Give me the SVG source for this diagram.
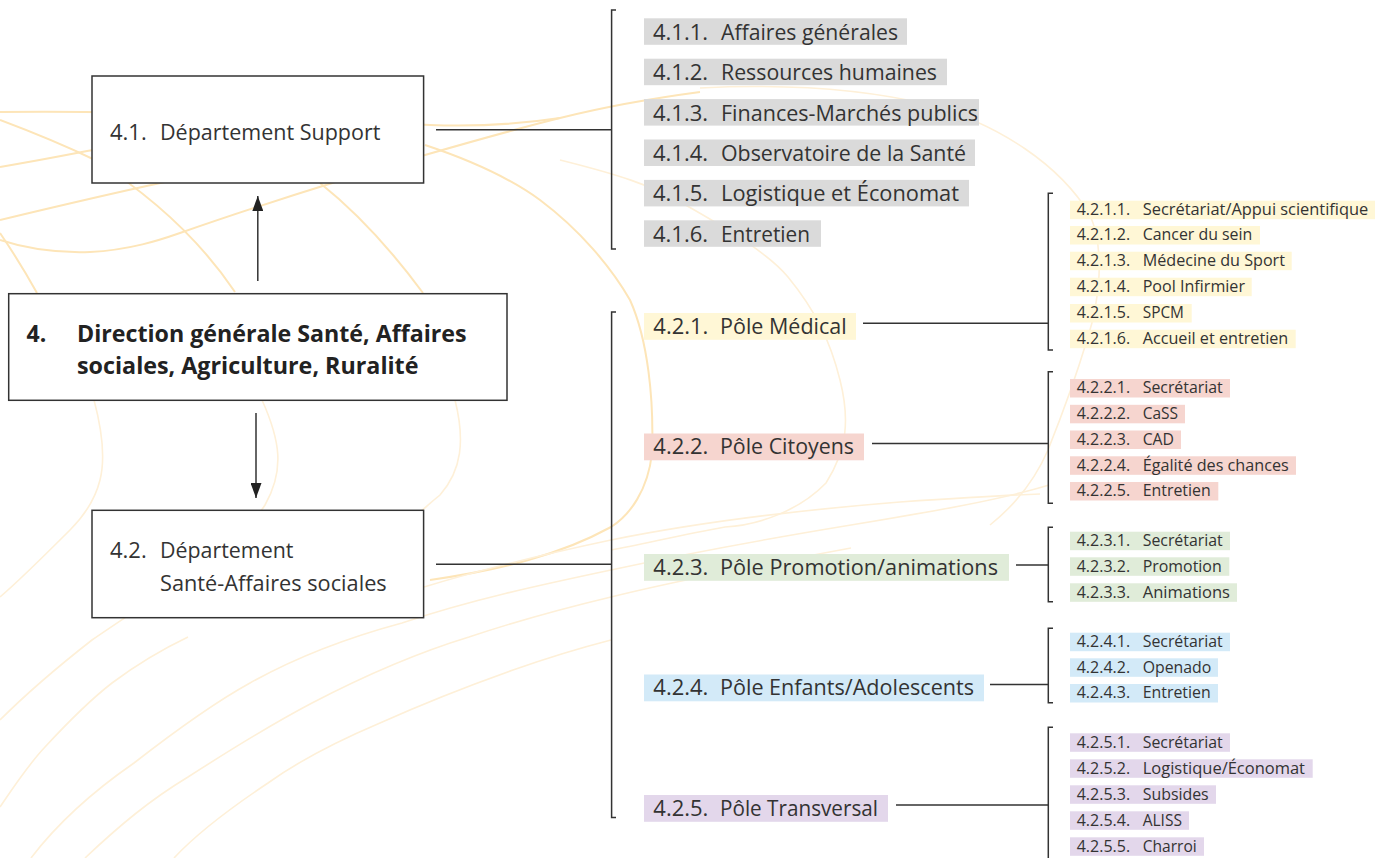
<svg xmlns="http://www.w3.org/2000/svg" width="1386" height="858" viewBox="0 0 1386 858">
<defs>
<style>
.bg{fill:none;stroke:#fde5b8;stroke-width:2}
.bg2{fill:none;stroke:#fef0d8;stroke-width:1.6}
.box{fill:#fff;stroke:#333;stroke-width:1.5}
.ln{fill:none;stroke:#333;stroke-width:1.5}
.t{font-family:"Open Sans","Noto Sans",sans-serif;fill:#333}
.b{font-size:22px}
.bold{font-size:23px;font-weight:700;fill:#222}
.s{font-size:16px}
.gray{fill:#dadada}
.yel{fill:#fff7d6}
.pink{fill:#f6d5cf}
.green{fill:#e0ecd9}
.blue{fill:#d3eaf8}
.purp{fill:#e3d7eb}
</style>
<marker id="arr" markerUnits="userSpaceOnUse" markerWidth="15" markerHeight="11" refX="15" refY="5.5" orient="auto">
<path d="M0,0 L15,5.5 L0,11 z" fill="#222"/>
</marker>
</defs>
<rect width="1386" height="858" fill="#fff"/>
<g id="background">
<path class="bg" d="M0,112 C140,110 300,118 430,125 C480,127 520,124 560,118"/>
<path class="bg" d="M0,120 C40,135 70,148 95,160 C150,195 200,240 235,292"/>
<path class="bg" d="M0,167 C60,157 90,150 120,145"/>
<path class="bg" d="M0,220 C50,208 100,196 165,182"/>
<path class="bg" d="M0,240 C30,250 60,253 90,252 C130,250 160,240 180,233 C260,205 340,180 425,155 C470,142 520,128 560,118 C600,108 640,100 700,92"/>
<path class="bg" d="M425,145 C470,160 510,178 540,200 C580,230 611,267 630,300 C648,340 654,400 652,453 C648,490 630,515 611,527 C560,555 500,570 430,580"/>
<path class="bg" d="M320,183 C360,215 395,255 423,293"/>
<path class="bg" d="M0,233 C15,255 27,275 37,293"/>
<path class="bg2" d="M560,160 C620,175 650,185 682,203 C730,230 770,255 788,277 C815,310 830,340 840,380 C850,420 847,450 826,483 C800,510 760,525 725,527 C680,535 640,545 611,550"/>
<path class="bg2" d="M700,88 C780,84 860,88 930,105 C1000,125 1060,165 1090,215 C1105,250 1100,300 1087,340 C1075,380 1060,420 1048,450 C1035,480 1015,505 990,525"/>
<path class="bg2" d="M94,400 C102,430 105,460 100,480 C95,500 85,515 70,530 C45,555 20,580 0,597"/>
<path class="bg2" d="M262,400 C280,440 285,470 265,505 C240,545 150,600 92,640 C60,665 30,690 0,720"/>
<path class="bg2" d="M455,400 C465,440 462,470 440,495 C430,503 425,508 420,512"/>
<path class="bg2" d="M0,807 C15,785 28,765 45,747 C70,720 90,700 112,683 C140,662 165,648 188,637"/>
<path class="bg2" d="M31,858 C60,820 95,790 134,763 C170,735 210,705 250,683 C300,655 350,637 402,623 C470,600 540,585 611,570 C680,555 760,540 851,525 C930,512 1000,500 1049,485"/>
<path class="bg2" d="M85,858 C120,825 150,800 188,777 C230,750 270,725 312,703 C360,678 410,655 469,637 C520,620 565,608 611,597 C680,580 760,565 851,548"/>
<path class="bg2" d="M174,858 C200,830 235,805 268,783 C300,760 340,740 380,723 C420,705 465,687 513,670 C550,657 580,648 611,640"/>
<path class="bg2" d="M424,587 C480,570 540,555 611,540 C700,522 800,510 900,502 C960,498 1010,495 1040,494"/>
</g>
<g id="connectors">
<line class="ln" x1="257.8" y1="281" x2="257.8" y2="196" marker-end="url(#arr)"/>
<line class="ln" x1="256" y1="413" x2="256" y2="498" marker-end="url(#arr)"/>
<path class="ln" d="M436,129.7 H611.6"/>
<path class="ln" d="M436,564.3 H611.6"/>
<path class="ln" d="M616,10 H611.6 V249 H616"/>
<path class="ln" d="M616,312 H611.6 V817.5 H616"/>
<path class="ln" d="M863,323.2 H1048.3"/>
<path class="ln" d="M872,443.6 H1048.3"/>
<path class="ln" d="M1016,565 H1048.3"/>
<path class="ln" d="M990,684.5 H1048.3"/>
<path class="ln" d="M896,805 H1048.3"/>
<path class="ln" d="M1053,193.3 H1048.3 V350 H1053"/>
<path class="ln" d="M1053,371.7 H1048.3 V503.3 H1053"/>
<path class="ln" d="M1053,527.3 H1048.3 V601.7 H1053"/>
<path class="ln" d="M1053,628.3 H1048.3 V702.7 H1053"/>
<path class="ln" d="M1053,727.3 H1048.3 V862"/>
</g>
<g id="n4">
<rect class="box" x="8.7" y="293.7" width="498.3" height="106.6"/>
<text class="t bold" x="26.5" y="341.7">4.</text>
<text class="t bold" x="77" y="341.7" textLength="389.5" lengthAdjust="spacingAndGlyphs">Direction générale Santé, Affaires</text>
<text class="t bold" x="77" y="374" textLength="341.5" lengthAdjust="spacingAndGlyphs">sociales, Agriculture, Ruralité</text>
</g>
<g id="n41">
<rect class="box" x="92" y="76" width="331.6" height="107"/>
<text class="t b" x="110" y="140">4.1.</text>
<text class="t b" x="160" y="140" textLength="220.4" lengthAdjust="spacingAndGlyphs">Département Support</text>
</g>
<g id="n42">
<rect class="box" x="92" y="510.3" width="331.6" height="107.4"/>
<text class="t b" x="110" y="558.3">4.2.</text>
<text class="t b" x="160" y="558.3" textLength="133.4" lengthAdjust="spacingAndGlyphs">Département</text>
<text class="t b" x="160" y="590.7" textLength="226.7" lengthAdjust="spacingAndGlyphs">Santé-Affaires sociales</text>
</g>
<g id="n411"><rect class="gray" x="644" y="18.3" width="263" height="26.5"/><text class="t b" x="653" y="39.8">4.1.1.</text><text class="t b" x="721" y="39.8" textLength="177" lengthAdjust="spacingAndGlyphs">Affaires générales</text></g>
<g id="n412"><rect class="gray" x="644" y="58.7" width="303" height="26.5"/><text class="t b" x="653" y="80.2">4.1.2.</text><text class="t b" x="721" y="80.2" textLength="216" lengthAdjust="spacingAndGlyphs">Ressources humaines</text></g>
<g id="n413"><rect class="gray" x="644" y="99.1" width="335" height="26.5"/><text class="t b" x="653" y="120.6">4.1.3.</text><text class="t b" x="721" y="120.6" textLength="257" lengthAdjust="spacingAndGlyphs">Finances-Marchés publics</text></g>
<g id="n414"><rect class="gray" x="644" y="139.5" width="331" height="26.5"/><text class="t b" x="653" y="161">4.1.4.</text><text class="t b" x="721" y="161" textLength="245" lengthAdjust="spacingAndGlyphs">Observatoire de la Santé</text></g>
<g id="n415"><rect class="gray" x="644" y="179.9" width="325" height="26.5"/><text class="t b" x="653" y="201.4">4.1.5.</text><text class="t b" x="721" y="201.4" textLength="238" lengthAdjust="spacingAndGlyphs">Logistique et Économat</text></g>
<g id="n416"><rect class="gray" x="644" y="220.3" width="177" height="26.5"/><text class="t b" x="653" y="241.8">4.1.6.</text><text class="t b" x="721" y="241.8" textLength="89" lengthAdjust="spacingAndGlyphs">Entretien</text></g>
<g id="n421"><rect class="yel" x="644" y="313" width="212" height="26.8"/><text class="t b" x="653.3" y="333.7">4.2.1.</text><text class="t b" x="720" y="333.7" textLength="126.7" lengthAdjust="spacingAndGlyphs">Pôle Médical</text></g>
<g id="n422"><rect class="pink" x="644" y="433.5" width="220" height="26.8"/><text class="t b" x="653.3" y="454.2">4.2.2.</text><text class="t b" x="720" y="454.2" textLength="134" lengthAdjust="spacingAndGlyphs">Pôle Citoyens</text></g>
<g id="n423"><rect class="green" x="644" y="554" width="365" height="26.8"/><text class="t b" x="653.3" y="574.7">4.2.3.</text><text class="t b" x="720" y="574.7" textLength="278" lengthAdjust="spacingAndGlyphs">Pôle Promotion/animations</text></g>
<g id="n424"><rect class="blue" x="644" y="674.5" width="340" height="26.8"/><text class="t b" x="653.3" y="695.2">4.2.4.</text><text class="t b" x="720" y="695.2" textLength="254" lengthAdjust="spacingAndGlyphs">Pôle Enfants/Adolescents</text></g>
<g id="n425"><rect class="purp" x="644" y="795" width="244" height="26.8"/><text class="t b" x="653.3" y="815.7">4.2.5.</text><text class="t b" x="720" y="815.7" textLength="158" lengthAdjust="spacingAndGlyphs">Pôle Transversal</text></g>
<g id="n4211"><rect class="yel" x="1070" y="200.7" width="305" height="18.5"/><text class="t s" x="1076.7" y="215">4.2.1.1.</text><text class="t s" x="1142.7" y="215" textLength="225.6" lengthAdjust="spacingAndGlyphs">Secrétariat/Appui scientifique</text></g>
<g id="n4212"><rect class="yel" x="1070" y="226" width="190" height="18.5"/><text class="t s" x="1076.7" y="240.3">4.2.1.2.</text><text class="t s" x="1142.7" y="240.3" textLength="109.6" lengthAdjust="spacingAndGlyphs">Cancer du sein</text></g>
<g id="n4213"><rect class="yel" x="1070" y="251.7" width="221.7" height="18.5"/><text class="t s" x="1076.7" y="266">4.2.1.3.</text><text class="t s" x="1142.7" y="266" textLength="142.3" lengthAdjust="spacingAndGlyphs">Médecine du Sport</text></g>
<g id="n4214"><rect class="yel" x="1070" y="277.7" width="181.7" height="18.5"/><text class="t s" x="1076.7" y="292">4.2.1.4.</text><text class="t s" x="1142.7" y="292" textLength="102.3" lengthAdjust="spacingAndGlyphs">Pool Infirmier</text></g>
<g id="n4215"><rect class="yel" x="1070" y="304" width="121.7" height="18.5"/><text class="t s" x="1076.7" y="318.3">4.2.1.5.</text><text class="t s" x="1142.7" y="318.3" textLength="41.3" lengthAdjust="spacingAndGlyphs">SPCM</text></g>
<g id="n4216"><rect class="yel" x="1070" y="329.7" width="225.7" height="18.5"/><text class="t s" x="1076.7" y="344">4.2.1.6.</text><text class="t s" x="1142.7" y="344" textLength="145.6" lengthAdjust="spacingAndGlyphs">Accueil et entretien</text></g>
<g id="n4221"><rect class="pink" x="1070" y="379" width="160" height="18.5"/><text class="t s" x="1076.7" y="393.3">4.2.2.1.</text><text class="t s" x="1142.7" y="393.3" textLength="80" lengthAdjust="spacingAndGlyphs">Secrétariat</text></g>
<g id="n4222"><rect class="pink" x="1070" y="404.8" width="115" height="18.5"/><text class="t s" x="1076.7" y="419.1">4.2.2.2.</text><text class="t s" x="1142.7" y="419.1" textLength="35.3" lengthAdjust="spacingAndGlyphs">CaSS</text></g>
<g id="n4223"><rect class="pink" x="1070" y="430.5" width="111" height="18.5"/><text class="t s" x="1076.7" y="444.8">4.2.2.3.</text><text class="t s" x="1142.7" y="444.8" textLength="31.3" lengthAdjust="spacingAndGlyphs">CAD</text></g>
<g id="n4224"><rect class="pink" x="1070" y="456.3" width="226" height="18.5"/><text class="t s" x="1076.7" y="470.6">4.2.2.4.</text><text class="t s" x="1142.7" y="470.6" textLength="146" lengthAdjust="spacingAndGlyphs">Égalité des chances</text></g>
<g id="n4225"><rect class="pink" x="1070" y="482" width="148.3" height="18.5"/><text class="t s" x="1076.7" y="496.3">4.2.2.5.</text><text class="t s" x="1142.7" y="496.3" textLength="68" lengthAdjust="spacingAndGlyphs">Entretien</text></g>
<g id="n4231"><rect class="green" x="1070" y="531.7" width="160" height="18.5"/><text class="t s" x="1076.7" y="546">4.2.3.1.</text><text class="t s" x="1142.7" y="546" textLength="80" lengthAdjust="spacingAndGlyphs">Secrétariat</text></g>
<g id="n4232"><rect class="green" x="1070" y="557.3" width="159.3" height="18.5"/><text class="t s" x="1076.7" y="571.6">4.2.3.2.</text><text class="t s" x="1142.7" y="571.6" textLength="79" lengthAdjust="spacingAndGlyphs">Promotion</text></g>
<g id="n4233"><rect class="green" x="1070" y="583.3" width="167" height="18.5"/><text class="t s" x="1076.7" y="597.6">4.2.3.3.</text><text class="t s" x="1142.7" y="597.6" textLength="87.3" lengthAdjust="spacingAndGlyphs">Animations</text></g>
<g id="n4241"><rect class="blue" x="1070" y="632.7" width="160" height="18.5"/><text class="t s" x="1076.7" y="647">4.2.4.1.</text><text class="t s" x="1142.7" y="647" textLength="80" lengthAdjust="spacingAndGlyphs">Secrétariat</text></g>
<g id="n4242"><rect class="blue" x="1070" y="658.3" width="148" height="18.5"/><text class="t s" x="1076.7" y="672.6">4.2.4.2.</text><text class="t s" x="1142.7" y="672.6" textLength="68.6" lengthAdjust="spacingAndGlyphs">Openado</text></g>
<g id="n4243"><rect class="blue" x="1070" y="684" width="148" height="18.5"/><text class="t s" x="1076.7" y="698.3">4.2.4.3.</text><text class="t s" x="1142.7" y="698.3" textLength="68" lengthAdjust="spacingAndGlyphs">Entretien</text></g>
<g id="n4251"><rect class="purp" x="1070" y="733.3" width="160" height="18.5"/><text class="t s" x="1076.7" y="747.6">4.2.5.1.</text><text class="t s" x="1142.7" y="747.6" textLength="80" lengthAdjust="spacingAndGlyphs">Secrétariat</text></g>
<g id="n4252"><rect class="purp" x="1070" y="759.3" width="242.7" height="18.5"/><text class="t s" x="1076.7" y="773.6">4.2.5.2.</text><text class="t s" x="1142.7" y="773.6" textLength="162.3" lengthAdjust="spacingAndGlyphs">Logistique/Économat</text></g>
<g id="n4253"><rect class="purp" x="1070" y="785.3" width="146" height="18.5"/><text class="t s" x="1076.7" y="799.6">4.2.5.3.</text><text class="t s" x="1142.7" y="799.6" textLength="66" lengthAdjust="spacingAndGlyphs">Subsides</text></g>
<g id="n4254"><rect class="purp" x="1070" y="811.3" width="119" height="18.5"/><text class="t s" x="1076.7" y="825.6">4.2.5.4.</text><text class="t s" x="1142.7" y="825.6" textLength="39.3" lengthAdjust="spacingAndGlyphs">ALISS</text></g>
<g id="n4255"><rect class="purp" x="1070" y="837.3" width="134" height="18.5"/><text class="t s" x="1076.7" y="851.6">4.2.5.5.</text><text class="t s" x="1142.7" y="851.6" textLength="54" lengthAdjust="spacingAndGlyphs">Charroi</text></g>
</svg>
